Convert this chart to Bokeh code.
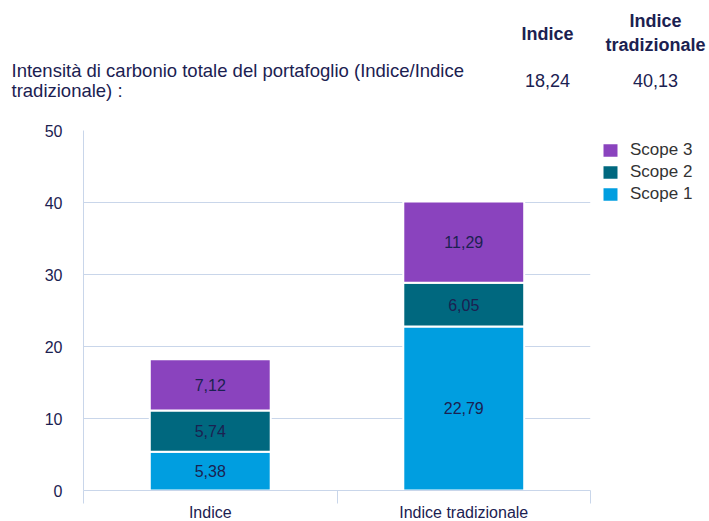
from bokeh.plotting import figure
from bokeh.models import Range1d, FixedTicker, Legend, LegendItem, ColumnDataSource
from bokeh.embed import file_html
from bokeh.resources import INLINE
from bokeh.core.properties import value
import numpy as np

# ---------------- data ----------------
categories = ["Indice", "Indice tradizionale"]
scope1 = [5.38, 22.79]
scope2 = [5.74, 6.05]
scope3 = [7.12, 11.29]
totals_label = ["18,24", "40,13"]
series = ["Scope 1", "Scope 2", "Scope 3"]
colors = ["#009EE0", "#00687F", "#8A43BE"]
y_ticks = [0, 10, 20, 30, 40, 50]
title_lines = ["Intensità di carbonio totale del portafoglio (Indice/Indice", "tradizionale) :"]

FONT = "Liberation Sans"
NAVY = "#1B2151"
GRID = "#C9D6EA"
W = 709
HEAD_H = 120

# ---------------- header (text table) ----------------
h = figure(frame_width=W, frame_height=HEAD_H, output_backend="svg", toolbar_location=None,
           x_range=Range1d(0, W), y_range=Range1d(HEAD_H, 0), min_border=0,
           x_axis_location=None, y_axis_location=None)
h.grid.grid_line_color = None
h.outline_line_color = None

h.text(x=[547, 655, 655], y=[33, 20, 44], text=["Indice", "Indice", "tradizionale"],
       text_font=value(FONT), text_font_size="18px", text_font_style="bold",
       text_color=NAVY, text_align="center", text_baseline="middle")
h.text(x=[11, 11], y=[70, 90], text=title_lines,
       text_font=value(FONT), text_font_size="18.5px",
       text_color=NAVY, text_align="left", text_baseline="middle")
h.text(x=[547, 655], y=[80, 80], text=totals_label,
       text_font=value(FONT), text_font_size="18px",
       text_color=NAVY, text_align="center", text_baseline="middle")

# ---------------- chart ----------------
xpos = [0.5, 1.5]
src = ColumnDataSource(dict(x=xpos, s1=scope1, s2=scope2, s3=scope3))

p = figure(frame_width=507, frame_height=360,
           output_backend="svg", toolbar_location=None,
           x_range=Range1d(0, 2), y_range=Range1d(0, 50),
           min_border_left=83, min_border_right=111, min_border_top=10, min_border_bottom=30)
p.outline_line_color = None

rs = p.vbar_stack(["s1", "s2", "s3"], x="x", width=0.477, source=src,
                  fill_color=colors, line_color="white", line_width=2)

vals = [scope1, scope2, scope3]
bottom = np.zeros(len(xpos))
lx, ly, lt = [], [], []
for v in vals:
    v = np.array(v)
    mids = bottom + v / 2
    for i in range(len(xpos)):
        lx.append(xpos[i]); ly.append(mids[i]); lt.append(f"{v[i]:.2f}".replace(".", ","))
    bottom = bottom + v
p.text(x=lx, y=ly, text=lt, text_font=value(FONT), text_font_size="16px",
       text_color=NAVY, text_align="center", text_baseline="middle")

legend = Legend(items=[LegendItem(label=series[i], renderers=[rs[i]]) for i in [2, 1, 0]],
                location="top_left")
legend.padding = 0
legend.margin = 10
legend.spacing = 2
legend.glyph_width = 20
legend.glyph_height = 18
legend.label_height = 18
legend.label_standoff = 10
legend.label_text_font = FONT
legend.label_text_font_size = "17px"
legend.label_text_color = "#333333"
legend.border_line_color = None
legend.background_fill_alpha = 0
p.add_layout(legend, "right")

p.xaxis.ticker = FixedTicker(ticks=xpos, minor_ticks=[0, 1, 2])
p.xaxis.major_label_overrides = {xpos[i]: categories[i] for i in range(len(xpos))}
p.xaxis.major_tick_line_color = None
p.xaxis.major_tick_out = 0
p.xaxis.major_tick_in = 0
p.xaxis.minor_tick_out = 13
p.xaxis.minor_tick_in = 0
p.xaxis.minor_tick_line_color = GRID
p.xaxis.axis_line_color = GRID
p.xaxis.major_label_standoff = 0
p.xaxis.major_label_text_font = FONT
p.xaxis.major_label_text_font_size = "16px"
p.xaxis.major_label_text_color = NAVY

p.yaxis.ticker = FixedTicker(ticks=y_ticks)
p.yaxis.major_tick_line_color = None
p.yaxis.minor_tick_line_color = None
p.yaxis.major_tick_out = 0
p.yaxis.major_tick_in = 0
p.yaxis.axis_line_color = GRID
p.yaxis.major_label_standoff = 21
p.yaxis.major_label_text_font = FONT
p.yaxis.major_label_text_font_size = "16px"
p.yaxis.major_label_text_color = NAVY

p.xgrid.grid_line_color = None
p.ygrid.grid_line_color = GRID
p.ygrid.grid_line_width = 1

open("out.html", "w").write(file_html([h, p], INLINE))
